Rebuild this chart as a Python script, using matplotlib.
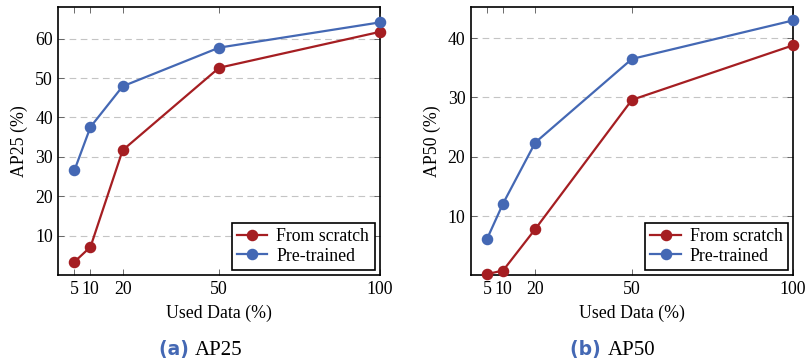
import matplotlib
matplotlib.use("Agg")
import matplotlib.pyplot as plt

used_data = [5, 10, 20, 50, 100]
ap25_scratch = [3.4, 7.2, 31.7, 52.6, 61.7]
ap25_pretrained = [26.6, 37.6, 47.9, 57.7, 64.1]
ap50_scratch = [0.2, 0.8, 7.8, 29.6, 38.8]
ap50_pretrained = [6.1, 12.1, 22.4, 36.5, 43.0]

RED = "#a51e22"
BLUE = "#4468b4"
SERIF = ["Liberation Serif", "DejaVu Serif"]

plt.rcParams["font.family"] = SERIF
FS = 12.8

fig = plt.figure(figsize=(8.08, 3.64), dpi=100)
ax1 = fig.add_axes([0.0722, 0.2437, 0.398, 0.736])
ax2 = fig.add_axes([0.5827, 0.2437, 0.3988, 0.736])

specs = [
    (ax1, ap25_scratch, ap25_pretrained, "AP25 (%)", (0, 67.9), [10, 20, 30, 40, 50, 60], "(a)", "AP25"),
    (ax2, ap50_scratch, ap50_pretrained, "AP50 (%)", (0, 45.2), [10, 20, 30, 40], "(b)", "AP50"),
]

for ax, scratch, pre, ylabel, ylim, yticks, tag, cap in specs:
    ax.plot(used_data, scratch, color=RED, lw=1.6, marker="o", ms=7.3, label="From scratch", clip_on=False, zorder=3)
    ax.plot(used_data, pre, color=BLUE, lw=1.6, marker="o", ms=7.3, label="Pre-trained", clip_on=False, zorder=3)
    ax.set_xlim(0, 100)
    ax.set_ylim(*ylim)
    ax.set_xticks(used_data)
    ax.set_xticklabels([str(v) for v in used_data])
    ax.set_yticks(yticks)
    ax.grid(axis="y", color="#c4c4c4", ls=(0, (6, 4)), lw=0.8)
    ax.tick_params(direction="in", top=True, right=True, labelsize=FS, length=4, width=0.6, color="#555555")
    ax.tick_params(axis="x", pad=4)
    ax.tick_params(axis="y", pad=4)
    for s in ax.spines.values():
        s.set_linewidth(1.2)
    ax.set_xlabel("Used Data (%)", fontsize=FS, labelpad=5)
    ax.set_ylabel(ylabel, fontsize=FS, labelpad=5)
    leg = ax.legend(loc="lower right", fontsize=FS, frameon=True, fancybox=False,
                    edgecolor="black", framealpha=1, borderpad=0.3, handlelength=1.7,
                    handletextpad=0.5, labelspacing=0.15, borderaxespad=0.3)
    leg.get_frame().set_linewidth(1.2)
    pos = ax.get_position()
    cx = pos.x0 + pos.width / 2 - 0.03
    fig.text(cx, 0.026, tag + " ", ha="right", va="baseline", fontsize=13.5,
             color=BLUE, fontweight="bold", family=["DejaVu Sans"])
    fig.text(cx, 0.026, cap, ha="left", va="baseline", fontsize=15, family=SERIF)

fig.savefig("out.png", dpi=100)
